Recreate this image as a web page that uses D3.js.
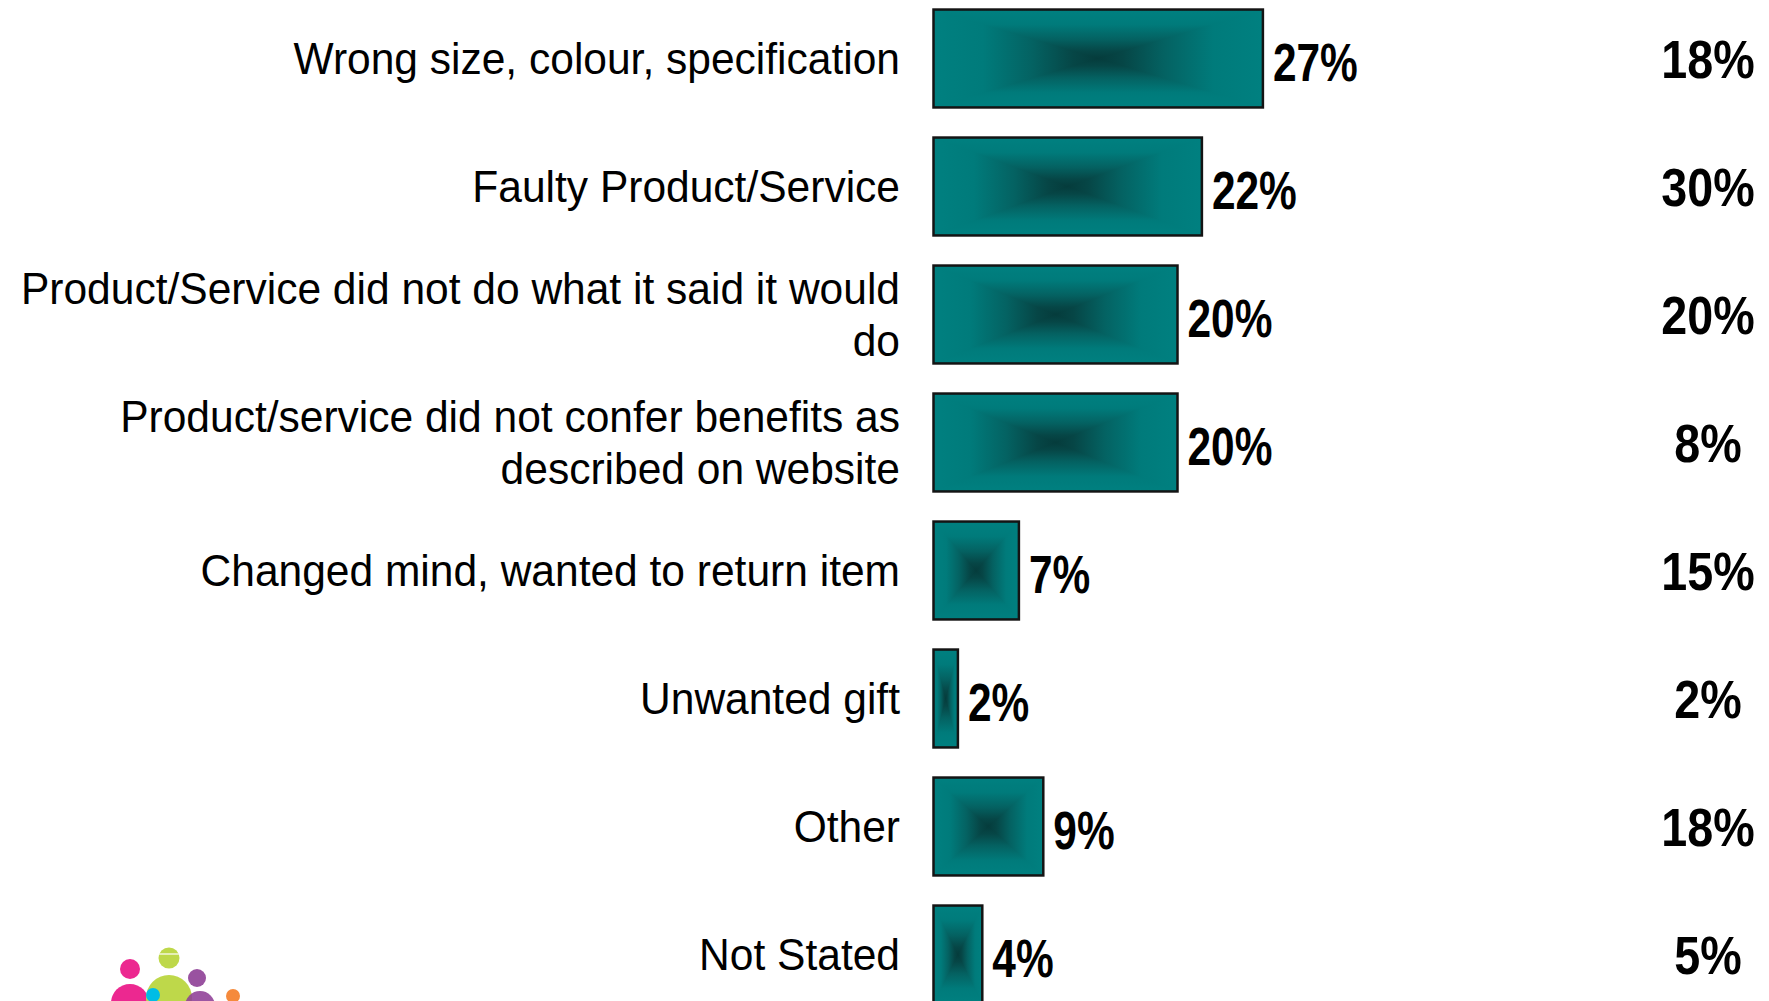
<!DOCTYPE html>
<html>
<head>
<meta charset="utf-8">
<script src="https://cdn.jsdelivr.net/npm/d3@7"></script>
<style>
  html, body { margin: 0; padding: 0; background: #ffffff; }
  svg { display: block; }
</style>
</head>
<body>
<svg id="chart" width="1769" height="1001"></svg>
<script>
// Reasons for returning a product bought online (% of respondents)
const categories = [
  "Wrong size, colour, specification",
  "Faulty Product/Service",
  "Product/Service did not do what it said it would\ndo",
  "Product/service did not confer benefits as\ndescribed on website",
  "Changed mind, wanted to return item",
  "Unwanted gift",
  "Other",
  "Not Stated"
];
// Bars: current survey
const barValues = [27, 22, 20, 20, 7, 2, 9, 4];
// Right-hand column: comparison figures
const compareValues = [18, 30, 20, 8, 15, 2, 18, 5];

const svg = d3.select("#chart");
const W = 1769, H = 1001;

svg.append("rect").attr("width", W).attr("height", H).attr("fill", "#ffffff");

const y = d3.scaleBand()
  .domain(categories)
  .range([-5.5, 1018.5])
  .paddingInner(0.235)
  .paddingOuter(0.1175);

const x = d3.scaleLinear()
  .domain([0, 30])
  .range([933.5, 933.5 + 366]);

const pct = v => v + "%";

// Gradients: teal edges shading to a dark centre (rectangular path shading)
const defs = svg.append("defs");
const stops = [
  [0.00, "#008080"],
  [0.30, "#007b7b"],
  [0.60, "#046262"],
  [0.85, "#064646"],
  [1.00, "#053c3c"]
];
function addGrad(id, x1, y1, x2, y2, mirror) {
  const g = defs.append("linearGradient")
    .attr("id", id)
    .attr("x1", x1).attr("y1", y1).attr("x2", x2).attr("y2", y2);
  if (mirror) {
    stops.forEach(([o, c]) => g.append("stop").attr("offset", o / 2).attr("stop-color", c));
    stops.slice().reverse().forEach(([o, c]) => g.append("stop").attr("offset", 1 - o / 2).attr("stop-color", c));
  } else {
    stops.forEach(([o, c]) => g.append("stop").attr("offset", o).attr("stop-color", c));
  }
}
addGrad("gVert", 0, 0, 0, 1, true);
addGrad("gLeft", 0, 0, 1, 0, false);
addGrad("gRight", 1, 0, 0, 0, false);

const rows = categories.map((c, i) => ({
  cat: c, value: barValues[i], compare: compareValues[i]
}));

const bars = svg.append("g").selectAll("g.bar")
  .data(rows)
  .join("g")
  .attr("class", "bar");

// Vertical shading over the whole bar
bars.append("rect")
  .attr("x", x(0))
  .attr("y", d => y(d.cat))
  .attr("width", d => x(d.value) - x(0))
  .attr("height", y.bandwidth())
  .attr("fill", "url(#gVert)");

// Left and right wedges with horizontal shading, bounded by the corner diagonals
function wedge(d, side) {
  const x0 = x(0), x1 = x(d.value), y0 = y(d.cat), y1 = y0 + y.bandwidth();
  const cx = (x0 + x1) / 2, cy = (y0 + y1) / 2;
  const ex = side === "left" ? x0 : x1;
  return [[ex, y0], [cx, cy], [ex, y1]].map(p => p.join(",")).join(" ");
}
bars.append("polygon")
  .attr("points", d => wedge(d, "left"))
  .attr("fill", "url(#gLeft)");
bars.append("polygon")
  .attr("points", d => wedge(d, "right"))
  .attr("fill", "url(#gRight)");

// Outline
bars.append("rect")
  .attr("x", x(0))
  .attr("y", d => y(d.cat))
  .attr("width", d => x(d.value) - x(0))
  .attr("height", y.bandwidth())
  .attr("fill", "none")
  .attr("stroke", "#141414")
  .attr("stroke-width", 2.5);

// Value labels at the bar ends (condensed bold)
svg.append("g").selectAll("text")
  .data(rows)
  .join("text")
  .attr("transform", d => `translate(${x(d.value) + 10},${y(d.cat) + y.bandwidth() / 2 + 22}) scale(0.8,1)`)
  .attr("font-family", "'Liberation Sans', Arial, sans-serif")
  .attr("font-weight", "bold")
  .attr("font-size", 53)
  .attr("fill", "#000")
  .text(d => pct(d.value));

// Comparison column on the right
svg.append("g").selectAll("text")
  .data(rows)
  .join("text")
  .attr("transform", d => `translate(1708,${y(d.cat) + y.bandwidth() / 2 + 19}) scale(0.88,1)`)
  .attr("text-anchor", "middle")
  .attr("font-family", "'Liberation Sans', Arial, sans-serif")
  .attr("font-weight", "bold")
  .attr("font-size", 53)
  .attr("fill", "#000")
  .text(d => pct(d.compare));

// Category labels, right aligned against the bars
const lineGap = 52;
const catText = svg.append("g")
  .attr("transform", "translate(900,0) scale(0.945,1)")
  .selectAll("text")
  .data(rows)
  .join("text")
  .attr("text-anchor", "end")
  .attr("font-family", "'Liberation Sans', Arial, sans-serif")
  .attr("font-size", 45)
  .attr("fill", "#000");

catText.each(function(d) {
  const lines = d.cat.split("\n");
  const cy = y(d.cat) + y.bandwidth() / 2;
  const first = cy - (lines.length - 1) * lineGap / 2 + 16;
  d3.select(this).selectAll("tspan")
    .data(lines)
    .join("tspan")
    .attr("x", 0)
    .attr("y", (l, i) => first + i * lineGap)
    .text(l => l);
});

// Brand mark: little group of people
const logo = svg.append("g");
const dots = [
  { cx: 130, cy: 1003, r: 19, fill: "#ec2890", op: 1 },
  { cx: 169, cy: 998, r: 23, fill: "#bed84a", op: 1 },
  { cx: 200, cy: 1006, r: 15, fill: "#8e3f96", op: 0.88 },
  { cx: 153, cy: 995, r: 7, fill: "#00bde6", op: 1 },
  { cx: 233, cy: 996, r: 7, fill: "#f58a3c", op: 1 },
  { cx: 130, cy: 969, r: 10, fill: "#ec2890", op: 1 },
  { cx: 169, cy: 958, r: 10.5, fill: "#bed84a", op: 1 },
  { cx: 197, cy: 978, r: 9, fill: "#8e3f96", op: 0.9 }
];
logo.selectAll("circle")
  .data(dots)
  .join("circle")
  .attr("cx", d => d.cx)
  .attr("cy", d => d.cy)
  .attr("r", d => d.r)
  .attr("fill", d => d.fill)
  .attr("opacity", d => d.op);
logo.append("line")
  .attr("x1", 158).attr("x2", 180)
  .attr("y1", 954).attr("y2", 954)
  .attr("stroke", "#ffffff").attr("stroke-width", 1.2);
</script>
</body>
</html>
